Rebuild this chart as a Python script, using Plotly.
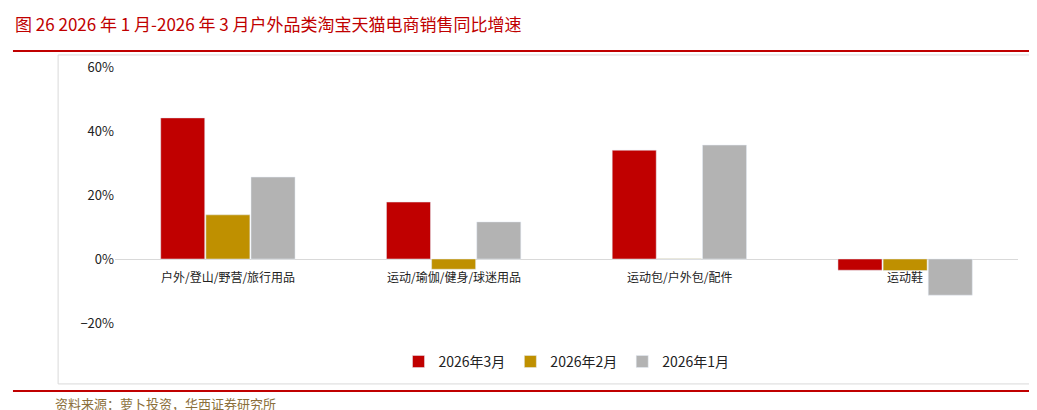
import plotly.graph_objects as go

categories = ["户外/登山/野营/旅行用品", "运动/瑜伽/健身/球迷用品", "运动包/户外包/配件", "运动鞋"]
mar_2026 = [44.1, 17.8, 34.0, -3.5]
feb_2026 = [13.8, -3.2, 0.1, -3.6]
jan_2026 = [25.6, 11.6, 35.6, -11.3]
series_names = ["2026年3月", "2026年2月", "2026年1月"]
colors = ["#C00000", "#BF9000", "#B3B3B3"]

font = "Noto Sans CJK SC"
fig = go.Figure()
for name, vals, c in zip(series_names, [mar_2026, feb_2026, jan_2026], colors):
    fig.add_trace(go.Bar(x=categories, y=vals, name=name, marker_color=c, width=0.195))

# category labels sit just under the zero line
for cat in categories:
    fig.add_annotation(x=cat, y=0, yref="y", text=cat, showarrow=False,
                       yshift=-17, font=dict(family=font, size=12, color="#222"))

fig.add_shape(type="rect", xref="paper", yref="paper", x0=-0.063, x1=1.017, y0=-0.238, y1=1.047,
              line=dict(color="#D9D9D9", width=1), layer="below")
fig.add_shape(type="line", xref="paper", yref="paper", x0=-0.113, x1=1.023, y0=1.0625, y1=1.0625,
              line=dict(color="#C00000", width=2))
fig.add_shape(type="line", xref="paper", yref="paper", x0=-0.113, x1=1.023, y0=-0.266, y1=-0.266,
              line=dict(color="#C00000", width=2))
fig.add_annotation(xref="paper", yref="paper", x=-0.113, y=1.168, xanchor="left", yanchor="middle",
                   showarrow=False,
                   text="图 26 2026 年 1 月-2026 年 3 月户外品类淘宝天猫电商销售同比增速",
                   font=dict(family=font, size=17, color="#C00000"))
fig.add_annotation(xref="paper", yref="paper", x=-0.069, y=-0.316, xanchor="left", yanchor="middle",
                   showarrow=False, text="资料来源：萝卜投资，华西证券研究所",
                   font=dict(family=font, size=13, color="#8B6F3A"))

fig.update_layout(
    width=1037, height=410, barmode="group", bargap=0.4, bargroupgap=0,
    plot_bgcolor="white", paper_bgcolor="white",
    margin=dict(l=107, r=27, t=59, b=95),
    font=dict(family=font, size=13, color="#222"),
    legend=dict(orientation="h", x=0.5, xanchor="center", y=-0.152, yanchor="middle",
                font=dict(size=14), bgcolor="rgba(0,0,0,0)"),
    xaxis=dict(showticklabels=False, showline=False, ticks=""),
    yaxis=dict(range=[-20, 60], dtick=20, ticksuffix="%", showgrid=False,
               zeroline=True, zerolinecolor="#D9D9D9", zerolinewidth=1),
)
fig.write_html("out.html")
